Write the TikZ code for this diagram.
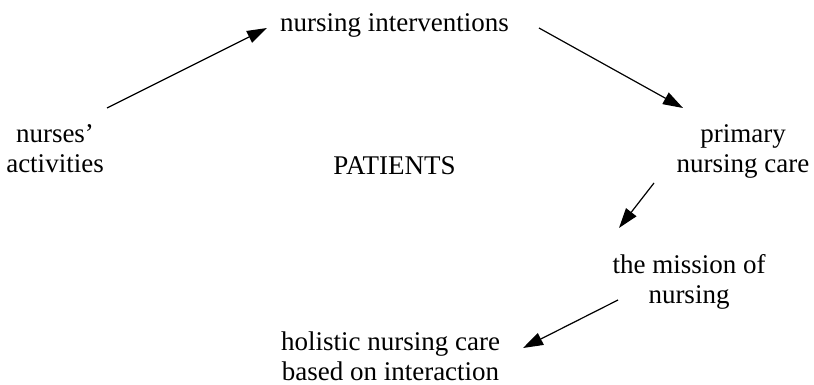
\documentclass[tikz,border=0pt]{standalone}
\usepackage{fontspec}
\setmainfont{Liberation Serif}
\usetikzlibrary{arrows.meta}
\begin{document}
\begin{tikzpicture}[x=1pt,y=-1pt,
  lbl/.style={align=center,inner sep=0pt,font=\fontsize{27}{30}\selectfont},
  arr/.style={-{Triangle[length=20pt,width=13pt]},line width=1.2pt}]
\useasboundingbox (0,0) rectangle (814,385);
\node[lbl,anchor=base] (ni) at (394.5,32) {nursing interventions};
\node[lbl] (na) at (55,148.8) {nurses'\\activities};
\node[lbl,anchor=base] (pt) at (394.5,175) {PATIENTS};
\node[lbl] (pn) at (743,151.7) {primary\\nursing care};
\node[lbl] (mn) at (689,281.7) {the mission of\\nursing};
\node[lbl] (hn) at (390.5,356.5) {holistic nursing care\\based on interaction};
\coordinate (a1s) at (107,108);
\coordinate (a1e) at (267,28);
\coordinate (a2s) at (539,28);
\coordinate (a2e) at (683,108);
\coordinate (a3s) at (654,183);
\coordinate (a3e) at (619,228);
\coordinate (a4s) at (618,300);
\coordinate (a4e) at (523,348);
\draw[arr] (a1s) -- (a1e);
\draw[arr] (a2s) -- (a2e);
\draw[arr] (a3s) -- (a3e);
\draw[arr] (a4s) -- (a4e);
\end{tikzpicture}
\end{document}
